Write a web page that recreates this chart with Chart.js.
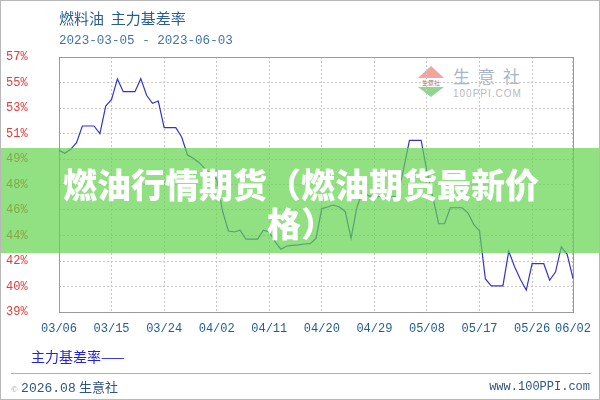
<!DOCTYPE html>
<html>
<head>
<meta charset="utf-8">
<script src="https://cdn.jsdelivr.net/npm/chart.js@4/dist/chart.umd.min.js"></script>
<style>
	body { margin: 0; background: #fff; }
	#wrap { position: relative; width: 600px; height: 400px; overflow: hidden; box-sizing: border-box; border: 1px solid #b8b8b8; }
	#wrap div { position: absolute; white-space: nowrap; }
	canvas { position: absolute; left: 0; top: 0; }
	.cjk { font-family: "Noto Sans CJK SC", sans-serif; }
	.mono { font-family: "Liberation Mono", monospace; }
</style>
</head>
<body>
<div id="wrap">
	<!-- watermark, sits under the canvas -->
	<div style="left:417px;top:65px;width:0;height:0;border-left:13px solid transparent;border-right:13px solid transparent;border-bottom:12px solid #f2a4a0;"></div>
	<div class="cjk" style="left:417px;top:77px;width:26px;font-size:6px;line-height:9px;color:#b06060;text-align:center;">生意社</div>
	<div style="left:417px;top:86px;width:0;height:0;border-left:13px solid transparent;border-right:13px solid transparent;border-top:10px solid #92d492;"></div>
	<div class="cjk" style="left:452px;top:64px;font-size:17px;line-height:22px;letter-spacing:8px;color:#a9b5c9;">生意社</div>
	<div style="left:452px;top:87px;font-family:'Liberation Sans',sans-serif;font-size:10px;line-height:12px;letter-spacing:1px;color:#b9b9b9;">100PPI.COM</div>

	<canvas id="ChartCanvas" width="600" height="400"></canvas>

	<div class="cjk" style="left:58px;top:7px;font-size:15px;line-height:19px;color:#2a5d8f;">燃料油&nbsp;&nbsp;主力基差率</div>
	<div class="mono" style="left:58px;top:32px;font-size:12.6px;line-height:16px;color:#3f74a6;">2023-03-05 - 2023-06-03</div>
	<div class="cjk" style="left:30px;top:346px;font-size:14px;line-height:18px;color:#2222d8;">主力基差率——</div>
	<div style="left:10px;top:372px;width:580px;height:0;border-top:1px solid #b0b0b0;"></div>
	<div style="left:10px;top:377px;font-size:13px;line-height:17px;color:#2d5580;"><span style="font-size:9px;color:#8a9ab0;">©</span> <span class="mono">2026.08</span> <span class="cjk">生意社</span></div>
	<div class="mono" style="right:9px;top:378px;font-size:12px;line-height:16px;color:#2d5580;">www.100PPI.com</div>

	<!-- green banner on top -->
	<div class="cjk" style="left:0;top:147px;width:600px;height:105px;background:rgba(98,211,76,0.7);color:#fff;font-size:34px;font-weight:900;line-height:39px;text-align:center;box-sizing:border-box;padding-top:16px;z-index:5;">燃油行情期货（燃油期货最新价<br>格）</div>
</div>

<script>
// daily labels, 03/06 .. 06/02
const dates = [
	'03/06','03/07','03/08','03/09','03/10','03/11','03/12','03/13','03/14','03/15','03/16','03/17','03/18',
	'03/19','03/20','03/21','03/22','03/23','03/24','03/25','03/26','03/27','03/28','03/29','03/30','03/31',
	'04/01','04/02','04/03','04/04','04/05','04/06','04/07','04/08','04/09','04/10','04/11','04/12','04/13','04/14','04/15',
	'04/16','04/17','04/18','04/19','04/20','04/21','04/22','04/23','04/24','04/25','04/26','04/27','04/28','04/29','04/30',
	'05/01','05/02','05/03','05/04','05/05','05/06','05/07','05/08','05/09','05/10','05/11','05/12','05/13','05/14','05/15','05/16',
	'05/17','05/18','05/19','05/20','05/21','05/22','05/23','05/24','05/25','05/26','05/27','05/28','05/29','05/30','05/31',
	'06/01','06/02'
];

// 主力基差率 (%)
const basisRate = [
	50.41, 50.20, 50.48, 50.95, 52.13, 52.13, 52.13, 51.59, 53.54, 54.01,
	55.45, 54.55, 54.55, 54.55, 55.47, 54.30, 53.73, 53.89, 52.01, 52.01,
	52.01, 51.35, 50.08, 49.85, 49.54, 49.10, 48.75, 48.37, 46.13, 44.72,
	44.65, 44.77, 44.14, 44.14, 44.14, 44.77, 44.65, 43.95, 43.43, 43.66,
	43.70, 43.74, 43.80, 43.82, 44.20, 46.30, 46.41, 46.55, 46.41, 46.10,
	44.20, 46.40, 47.50, 47.20, 47.15, 47.15, 47.15, 47.15, 47.15, 49.10,
	51.12, 51.12, 51.12, 48.90, 47.10, 45.23, 45.23, 46.36, 46.36, 46.36,
	46.00, 45.19, 44.72, 41.33, 40.84, 40.84, 40.84, 43.30, 42.20, 41.30,
	40.55, 42.41, 42.41, 42.41, 41.24, 41.82, 43.60, 43.07, 41.38
];

const xTickLabels = ['03/06','03/15','03/24','04/02','04/11','04/20','04/29','05/08','05/17','05/26','06/02'];
const yTicks = [39, 40.8, 42.6, 44.4, 46.2, 48, 49.8, 51.6, 53.4, 55.2, 57];
const yTickLabels = ['39%','40%','42%','44%','46%','48%','49%','51%','53%','55%','57%'];

const boxPlugin = {
	id: 'box',
	beforeDatasetsDraw(chart) {
		let a = chart.chartArea, c = chart.ctx;
		c.save();
		c.strokeStyle = '#9a9a9a';
		c.lineWidth = 1;
		c.strokeRect(Math.round(a.left) + 0.5, Math.round(a.top) + 0.5, Math.round(a.right - a.left), Math.round(a.bottom - a.top));
		c.restore();
	}
};

function drawChart() {
	var ctx = document.getElementById('ChartCanvas').getContext('2d');
	var chart = new Chart(ctx, {
		type: 'line',
		data: {
			labels: dates,
			datasets: [{
				label: '主力基差率',
				borderColor: '#3434cc',
				borderWidth: 1.2,
				pointRadius: 0,
				tension: 0,
				fill: false,
				data: basisRate
			}]
		},
		options: {
			responsive: false,
			animation: false,
			devicePixelRatio: 1,
			layout: { padding: { top: 56, left: 5, right: 22, bottom: 59 } },
			plugins: { legend: { display: false }, tooltip: { enabled: false } },
			scales: {
				x: {
					offset: false,
					afterFit: function (s) { s.height = 30; },
					border: { display: false, dash: [2, 2] },
					grid: {
						drawTicks: false,
						color: function (c) { return xTickLabels.includes(dates[c.index]) ? '#c8c8c8' : 'transparent'; }
					},
					ticks: {
						autoSkip: false,
						maxRotation: 0,
						padding: 10,
						color: '#1f5d8f',
						font: { family: 'Liberation Mono', size: 12 },
						callback: function (v) {
							let l = dates[v];
							return xTickLabels.includes(l) ? l : '';
						}
					}
				},
				y: {
					min: 39,
					max: 57,
					afterFit: function (s) { s.width = 53; },
					afterBuildTicks: function (s) { s.ticks = yTicks.map(function (v) { return { value: v }; }); },
					border: { display: false, dash: [2, 2] },
					grid: { drawTicks: false, color: '#c8c8c8' },
					ticks: {
						crossAlign: 'far',
						color: '#e03a3a',
						font: { family: 'Liberation Mono', size: 12 },
						callback: function (v, i) { return yTickLabels[i]; }
					}
				}
			}
		},
		plugins: [boxPlugin]
	});
}

drawChart();
</script>
</body>
</html>
